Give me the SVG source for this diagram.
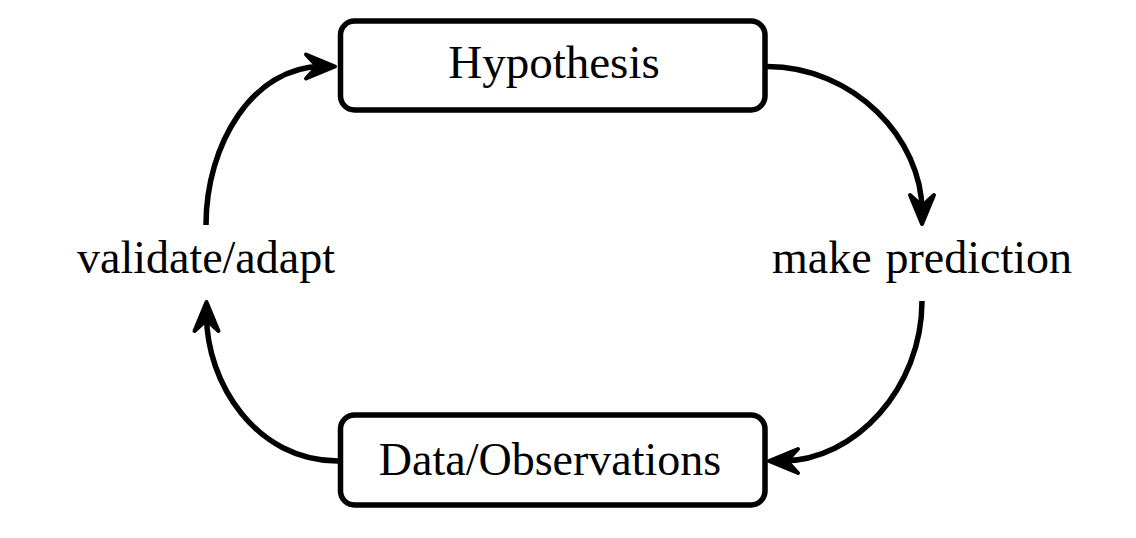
<svg xmlns="http://www.w3.org/2000/svg" width="1136" height="538" viewBox="0 0 1136 538">
  <style>
    .box { fill: #ffffff; stroke: #000000; stroke-width: 5.5; }
    .lbl { font-family: "Liberation Serif", "Times New Roman", serif; font-size: 46px; fill: #000000; text-anchor: middle; }
    .conn { fill: none; stroke: #000000; stroke-width: 5.5; marker-end: url(#arrow); }
  </style>
  <defs>
    <marker id="arrow" markerUnits="userSpaceOnUse" markerWidth="40" markerHeight="40" viewBox="-20 -20 40 40" refX="0" refY="0" orient="auto" overflow="visible">
      <path d="M13,0 L-16,-12 L-5,0 L-16,12 Z" fill="#000000" stroke="#000000" stroke-width="4" stroke-linejoin="round"/>
    </marker>
  </defs>
  <rect width="1136" height="538" fill="#ffffff"/>
  <g id="connectors">
    <path class="conn" d="M206,225 C206,144 253,66.5 322,66.5"/>
    <path class="conn" d="M767,66.5 C854,66.5 922,139 922,211"/>
    <path class="conn" d="M922,301 C922,388 855,461 782,461"/>
    <path class="conn" d="M338,461 C256,461 206.5,383 206.5,315"/>
  </g>
  <g id="hypothesis">
    <rect class="box" x="340.5" y="21" width="424.5" height="89" rx="14" ry="14"/>
    <text class="lbl" x="554" y="78" style="font-size:47px">Hypothesis</text>
  </g>
  <g id="data">
    <rect class="box" x="340.5" y="415" width="424.5" height="90" rx="14" ry="14"/>
    <text class="lbl" x="550" y="475">Data/Observations</text>
  </g>
  <g id="make-prediction">
    <text class="lbl" y="273"><tspan x="772" text-anchor="start">make</tspan><tspan x="1072" text-anchor="end">prediction</tspan></text>
  </g>
  <g id="validate-adapt">
    <text class="lbl" x="206" y="273">validate/adapt</text>
  </g>
</svg>
